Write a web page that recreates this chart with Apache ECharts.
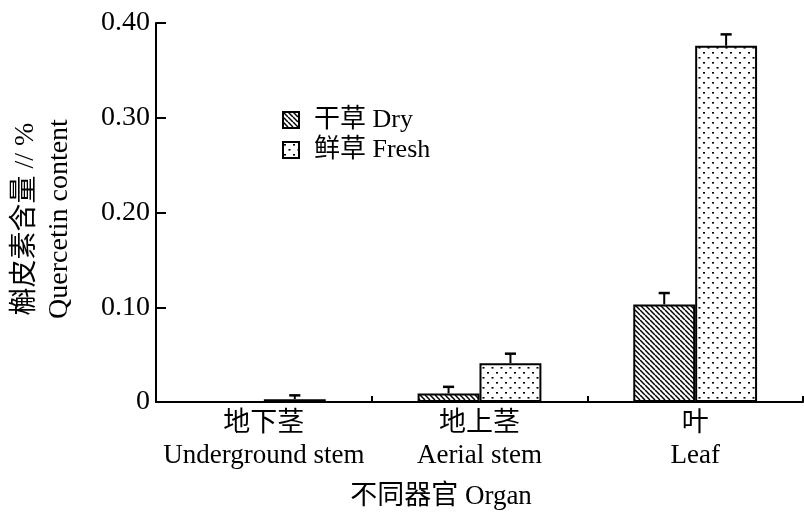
<!DOCTYPE html>
<html>
<head>
<meta charset="utf-8">
<script src="https://cdn.jsdelivr.net/npm/echarts@6/dist/echarts.min.js"></script>
<style>
  html, body { margin: 0; padding: 0; background: #fff; }
  #chart { width: 804px; height: 513px; }
</style>
</head>
<body>
<div id="chart"></div>
<script>
// Quercetin content in different organs, dry vs fresh material
const categories = ['地下茎\nUnderground stem', '地上茎\nAerial stem', '叶\nLeaf'];
const dryValues = [0, 0.009, 0.103];
const dryErrors = [0, 0.007, 0.012];
const freshValues = [0.003, 0.041, 0.376];
const freshErrors = [0.004, 0.010, 0.012];
const yTicks = [0, 0.1, 0.2, 0.3, 0.4];

const LATIN = '"Liberation Serif", "Noto Sans CJK SC", serif';
const BAR_FRACTION = 0.287;   // share of a category slot taken by one bar
const CAP_FRACTION = 0.18;    // error-bar cap width relative to a bar

// fill patterns: diagonal hatching and staggered dots
function hatchPattern() {
  const s = 5, c = document.createElement('canvas');
  c.width = s; c.height = s;
  const g = c.getContext('2d');
  g.fillStyle = '#fff'; g.fillRect(0, 0, s, s);
  g.strokeStyle = '#000'; g.lineWidth = 1.5;
  for (const k of [-s, 0, s]) {
    g.beginPath(); g.moveTo(0, k); g.lineTo(s, k + s); g.stroke();
  }
  return c;
}
function dotPattern() {
  const c = document.createElement('canvas');
  c.width = 9; c.height = 10;
  const g = c.getContext('2d');
  g.fillStyle = '#fff'; g.fillRect(0, 0, 9, 10);
  g.fillStyle = '#000';
  g.fillRect(1, 2, 2, 1.6);
  g.fillRect(5.5, 7, 2, 1.6);
  return c;
}

const dryFill = { image: hatchPattern(), repeat: 'repeat' };
const freshFill = { image: dotPattern(), repeat: 'repeat' };

function errorSeries(name, values, errors, side) {
  return {
    type: 'custom',
    name: name,
    z: 5,
    silent: true,
    data: values.map((v, i) => [i, v, errors[i]]),
    renderItem: function (params, api) {
      const err = api.value(2);
      if (!err) return null;
      const base = api.coord([api.value(0), api.value(1)]);
      const top = api.coord([api.value(0), api.value(1) + err]);
      const bw = api.size([1, 0])[0] * BAR_FRACTION;
      const x = base[0] + side * bw / 2;
      const half = bw * CAP_FRACTION / 2;
      return {
        type: 'group',
        children: [
          { type: 'line', shape: { x1: x, y1: base[1], x2: x, y2: top[1] }, style: { stroke: '#000', lineWidth: 2 } },
          { type: 'line', shape: { x1: x - half, y1: top[1], x2: x + half, y2: top[1] }, style: { stroke: '#000', lineWidth: 2.5 } }
        ]
      };
    }
  };
}

const chart = echarts.init(document.getElementById('chart'), null, { renderer: 'canvas' });
chart.setOption({
  backgroundColor: '#fff',
  animation: false,
  grid: { left: 156, right: 1, top: 23, bottom: 111 },
  legend: {
    orient: 'vertical',
    left: 277,
    top: 100,
    itemWidth: 16,
    itemHeight: 16,
    itemGap: 0,
    icon: 'rect',
    data: ['干草 Dry', '鲜草 Fresh'],
    itemStyle: { borderColor: '#000', borderWidth: 2 },
    textStyle: { fontFamily: LATIN, fontSize: 26, color: '#000', lineHeight: 30, padding: [0, 0, 0, 10] }
  },
  xAxis: {
    type: 'category',
    data: categories,
    axisLine: { lineStyle: { color: '#000', width: 2 } },
    axisTick: { show: true, interval: 0, inside: true, length: 6, lineStyle: { color: '#000', width: 2 } },
    axisLabel: { interval: 0, color: '#000', fontFamily: LATIN, fontSize: 27, lineHeight: 32, margin: 6 }
  },
  yAxis: {
    type: 'value',
    min: 0,
    max: 0.4,
    interval: 0.1,
    splitLine: { show: false },
    axisLine: { show: true, lineStyle: { color: '#000', width: 2 } },
    axisTick: { show: true, inside: true, length: 10, lineStyle: { color: '#000', width: 2 } },
    axisLabel: {
      color: '#000', fontFamily: LATIN, fontSize: 28, margin: 6,
      formatter: v => (yTicks.indexOf(Math.round(v * 10) / 10) >= 0 ? (v === 0 ? '0' : v.toFixed(2)) : '')
    }
  },
  series: [
    {
      type: 'bar',
      name: '干草 Dry',
      data: dryValues,
      barWidth: (BAR_FRACTION * 100) + '%',
      barGap: '0%',
      itemStyle: { color: dryFill, borderColor: '#000', borderWidth: 2 }
    },
    {
      type: 'bar',
      name: '鲜草 Fresh',
      data: freshValues,
      barWidth: (BAR_FRACTION * 100) + '%',
      barGap: '0%',
      itemStyle: { color: freshFill, borderColor: '#000', borderWidth: 2 }
    },
    errorSeries('dry-err', dryValues, dryErrors, -1),
    errorSeries('fresh-err', freshValues, freshErrors, 1)
  ],
  graphic: [
    {
      type: 'text',
      x: 43,
      y: 219,
      rotation: Math.PI / 2,
      style: {
        text: '槲皮素含量 // %\nQuercetin content',
        font: '28px ' + LATIN,
        fill: '#000',
        align: 'center',
        verticalAlign: 'middle',
        lineHeight: 34
      }
    },
    {
      type: 'text',
      x: 441,
      y: 497,
      style: {
        text: '不同器官 Organ',
        font: '27px ' + LATIN,
        fill: '#000',
        align: 'center',
        verticalAlign: 'middle'
      }
    }
  ]
});
</script>
</body>
</html>
